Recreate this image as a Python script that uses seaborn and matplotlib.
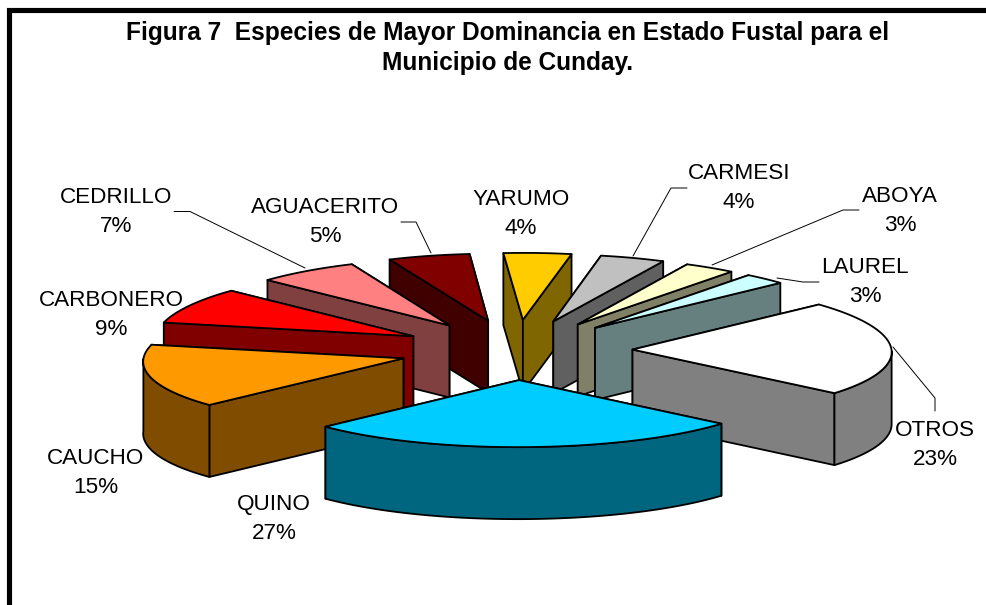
import numpy as np
import matplotlib
matplotlib.use("Agg")
import matplotlib.pyplot as plt
from matplotlib.patches import Polygon
import seaborn as sns

# ---- data -----------------------------------------------------------
especies = ["YARUMO", "CARMESI", "ABOYA", "LAUREL", "OTROS", "QUINO",
            "CAUCHO", "CARBONERO", "CEDRILLO", "AGUACERITO"]
dominancia = [4.4, 4.2, 3.3, 2.7, 23.0, 26.5, 15.5, 8.6, 6.5, 5.3]
rotulos = [4, 4, 3, 3, 23, 27, 15, 9, 7, 5]
colores = ["#FFCC00", "#C0C0C0", "#FFFFCC", "#CCFFFF", "#FFFFFF", "#00CCFF",
           "#FF9900", "#FF0000", "#FF8080", "#800000"]
titulo = "Figura 7  Especies de Mayor Dominancia en Estado Fustal para el\nMunicipio de Cunday."

# label anchor (pixels) by species
etiquetas = {
    "CEDRILLO": (116, 212), "AGUACERITO": (325, 222), "YARUMO": (521, 214),
    "CARMESI": (739, 188), "ABOYA": (900, 211), "LAUREL": (865, 282),
    "CARBONERO": (111, 315), "CAUCHO": (96, 473), "OTROS": (935, 445),
    "QUINO": (274, 519),
}
guias = {
    "CEDRILLO": [(174, 211.5), (190, 211.5), (305, 268)],
    "AGUACERITO": [(401, 222), (416, 222), (431, 253)],
    "CARMESI": [(687, 188), (671, 188), (633, 256)],
    "ABOYA": [(859, 210), (843, 210), (712, 265)],
    "LAUREL": [(819, 282), (803, 282), (777, 278)],
    "OTROS": [(893, 347), (935, 398), (935, 411)],
}

# ---- geometry -------------------------------------------------------
sns.set_theme(style="white")
plt.rcParams["font.family"] = ["Liberation Sans", "DejaVu Sans"]
W, H = 987, 605
fig = plt.figure(figsize=(W / 100, H / 100), dpi=100, facecolor="white")
ax = fig.add_axes([0, 0, 1, 1])
ax.set_xlim(0, W)
ax.set_ylim(H, 0)
ax.axis("off")

CX, CY, RX, RY, DEPTH, EXPLODE, PERSP, LW = 516, 350, 259, 67, 72, 0.45, 0.03, 1.3
SHEAR = 1.4
START = -4.8  # degrees clockwise from north of the first slice

def proyecta(u, v, h=0.0):
    s = 1 + PERSP * v
    return np.column_stack([CX + RX * np.asarray(u) * s - SHEAR * np.asarray(v),
                            CY + RY * np.asarray(v) + h * np.ones_like(u)])

def osc(c):
    r = matplotlib.colors.to_rgb(c)
    return tuple(0.5 * x for x in r)

paleta = sns.color_palette(colores)
shares = np.array(dominancia, float) / sum(dominancia) * 360
inicios = START + np.concatenate([[0], np.cumsum(shares)[:-1]])
mids = inicios + shares / 2

def pinta(pts, color, z):
    ax.add_patch(Polygon(pts, closed=True, facecolor=color, edgecolor="black",
                         linewidth=LW, joinstyle="round", zorder=z))

orden = np.argsort(-np.cos(np.radians(mids)) + 1e-6 * np.arange(len(mids)))
z = 2
for i in orden:
    a0, a1, m = inicios[i], inicios[i] + shares[i], mids[i]
    ox, oy = EXPLODE * np.sin(np.radians(m)), -EXPLODE * np.cos(np.radians(m))
    t = np.radians(np.linspace(a0, a1, 60))
    ru, rv = ox + np.sin(t), oy - np.cos(t)
    top_rim = proyecta(ru, rv)
    apex = proyecta(np.array([ox]), np.array([oy]))
    apex_b = apex + [0, DEPTH]
    lado = osc(paleta[i])
    # radial walls, back one first
    paredes = [top_rim[0], top_rim[-1]]
    paredes.sort(key=lambda p: p[1])
    for p in paredes:
        pinta([apex[0], p, p + [0, DEPTH], apex_b[0]], lado, z); z += 1
    # outer wall, only where it faces the viewer
    vis = np.cos(t) < 0
    if vis.any():
        seg = top_rim[vis]
        pinta(np.vstack([seg, (seg + [0, DEPTH])[::-1]]), lado, z); z += 1
    pinta(np.vstack([apex, top_rim]), paleta[i], z); z += 1

for nombre, pts in guias.items():
    xs, ys = zip(*pts)
    ax.plot(xs, ys, color="black", lw=0.7, zorder=z + 1)

for nombre, val in zip(especies, rotulos):
    x, y = etiquetas[nombre]
    ax.text(x, y, f"{nombre}\n{val}%", ha="center", va="center", fontsize=16.2,
            color="black", linespacing=1.47, zorder=z + 2)

ax.text(508, 48, titulo, ha="center", va="center", fontsize=17.66,
        fontweight="bold", color="black", linespacing=1.36, zorder=z + 2)

# chart frame
ax.plot([8.5, 8.5, 990], [H + 5, 9.6, 9.6], color="black", lw=3.7,
        solid_joinstyle="miter", zorder=z + 3)

fig.savefig("out.png", dpi=100, facecolor="white")
